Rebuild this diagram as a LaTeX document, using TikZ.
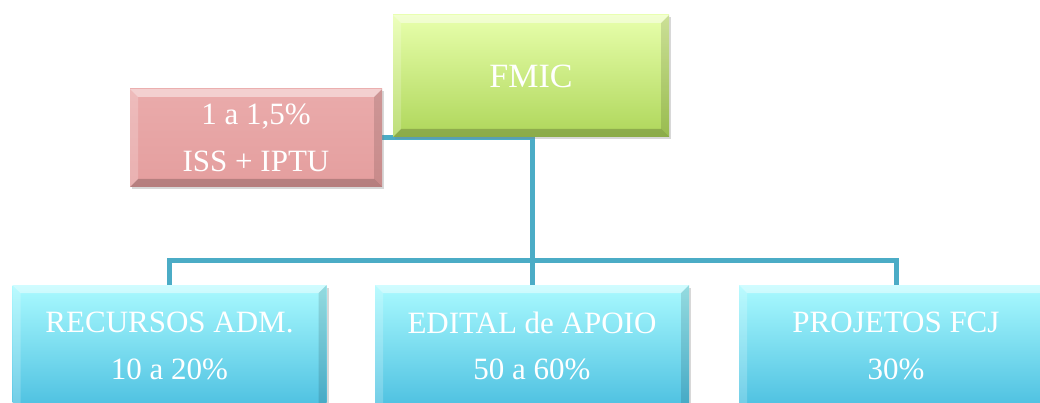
\documentclass[tikz,border=0pt]{standalone}
\usepackage{fontspec}
\setmainfont{Liberation Serif}
\usetikzlibrary{shadows,backgrounds}
\definecolor{lineblue}{HTML}{4BACC6}
\definecolor{gtop}{HTML}{E8FFAC}
\definecolor{gbot}{HTML}{AED65A}
\definecolor{rtop}{HTML}{EAABAB}
\definecolor{rbot}{HTML}{E49E9E}
\definecolor{ctop}{HTML}{AAFAFF}
\definecolor{cbot}{HTML}{40B8DC}
\begin{document}
\begin{tikzpicture}[x=1pt,y=-1pt,
  box/.style={rectangle, inner sep=0pt, text=white, align=center,
    font=\fontsize{31}{46.5}\selectfont,
    drop shadow={shadow xshift=2pt,shadow yshift=-2.5pt,opacity=.3},
    path picture={
      \def\bb{path picture bounding box}
      \fill[white,opacity=.45] (\bb.north west) -- (\bb.north east) -- ([shift={(-8pt,-8pt)}]\bb.north east) -- ([shift={(8pt,-8pt)}]\bb.north west) -- cycle;
      \fill[white,opacity=.2] (\bb.north west) -- ([shift={(8pt,-8pt)}]\bb.north west) -- ([shift={(8pt,8pt)}]\bb.south west) -- (\bb.south west) -- cycle;
      \fill[black,opacity=.12] (\bb.north east) -- ([shift={(-8pt,-8pt)}]\bb.north east) -- ([shift={(-8pt,8pt)}]\bb.south east) -- (\bb.south east) -- cycle;
      \fill[black,opacity=.2] (\bb.south west) -- ([shift={(8pt,8pt)}]\bb.south west) -- ([shift={(-8pt,8pt)}]\bb.south east) -- (\bb.south east) -- cycle;
    }},
  greenbox/.style={box, top color=gtop, bottom color=gbot},
  redbox/.style={box, top color=rtop, bottom color=rbot},
  cyanbox/.style={box, top color=ctop, bottom color=cbot, minimum width=314pt, minimum height=140pt, text depth=19pt},
  conn/.style={draw=lineblue, line width=5pt}
]
\useasboundingbox (0,0) rectangle (1040,403);
\clip (0,0) rectangle (1040,403);

\node[greenbox, minimum width=276pt, minimum height=122pt, font=\fontsize{34}{40}\selectfont] (fmic) at (531,76) {FMIC};
\node[redbox, minimum width=252pt, minimum height=98pt] (tax) at (256,138) {1 a 1,5\%\\ISS + IPTU};
\node[cyanbox] (adm) at (169.5,355) {RECURSOS ADM.\\10 a 20\%};
\node[cyanbox] (edital) at (532,355) {EDITAL de APOIO\\50 a 60\%};
\node[cyanbox] (proj) at (896,355) {PROJETOS FCJ\\30\%};
\coordinate (bus) at (532,260);

\begin{pgfonlayer}{background}
\fill[white] (0,0) rectangle (1040,403);
\draw[conn] (fmic.south -| edital.north) -- (edital.north);
\draw[conn] (tax.east) -- (tax.east -| edital.north);
\draw[conn] (adm.north) |- (bus) -| (proj.north);
\end{pgfonlayer}
\end{tikzpicture}
\end{document}
